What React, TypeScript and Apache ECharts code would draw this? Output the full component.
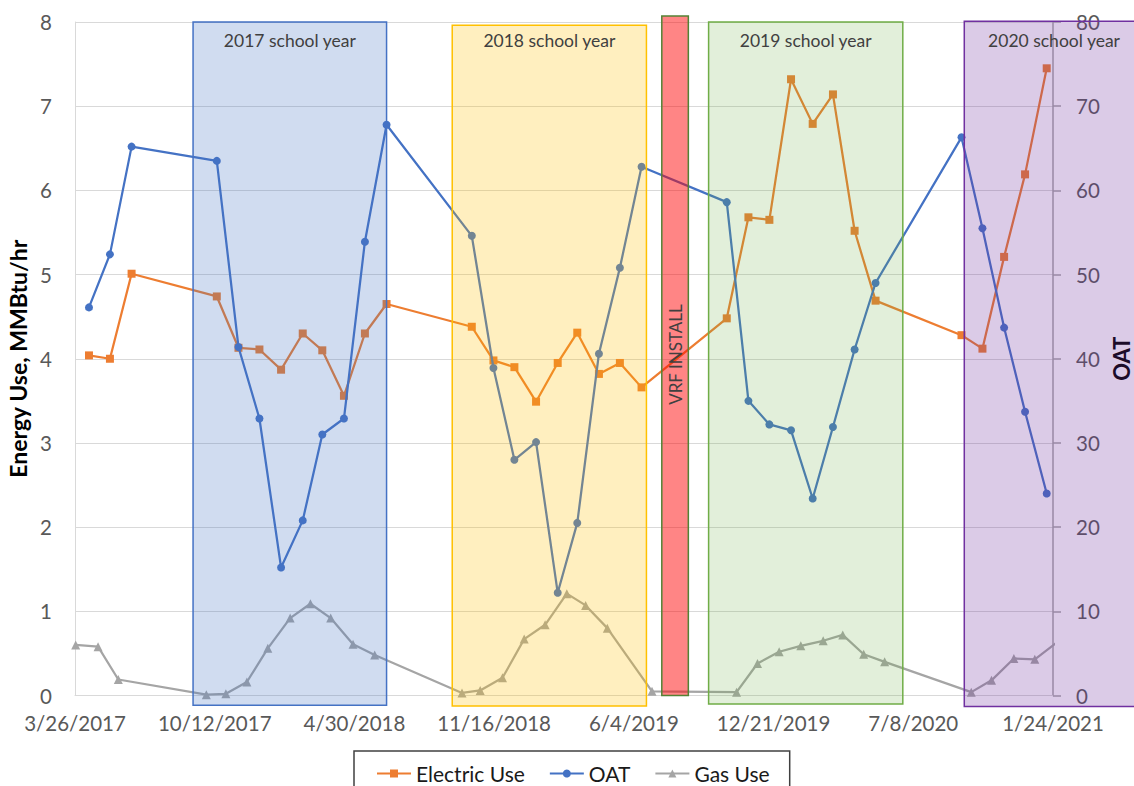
import React, { useEffect, useRef } from "react";
import * as echarts from "echarts";

// ---- data ----
const electricDates = [
  "2017-04-15", "2017-05-15", "2017-06-15",
  "2017-10-15", "2017-11-15", "2017-12-15", "2018-01-15", "2018-02-15", "2018-03-15", "2018-04-15", "2018-05-15", "2018-06-15",
  "2018-10-15", "2018-11-15", "2018-12-15", "2019-01-15", "2019-02-15", "2019-03-15", "2019-04-15", "2019-05-15", "2019-06-15",
  "2019-10-15", "2019-11-15", "2019-12-15", "2020-01-15", "2020-02-15", "2020-03-15", "2020-04-15", "2020-05-15",
  "2020-09-15", "2020-10-15", "2020-11-15", "2020-12-15", "2021-01-15",
];
const electricUse = [
  4.04, 4.0, 5.01,
  4.74, 4.13, 4.11, 3.87, 4.3, 4.1, 3.56, 4.3, 4.65,
  4.38, 3.98, 3.9, 3.49, 3.95, 4.31, 3.82, 3.95, 3.66,
  4.48, 5.68, 5.65, 7.32, 6.79, 7.14, 5.52, 4.69,
  4.28, 4.12, 5.21, 6.19, 7.45,
];
const oat = [
  46.1, 52.4, 65.2,
  63.5, 41.4, 32.9, 15.2, 20.8, 31.0, 32.9, 53.9, 67.8,
  54.6, 38.9, 28.0, 30.1, 12.2, 20.5, 40.6, 50.8, 62.8,
  58.6, 35.0, 32.2, 31.5, 23.4, 31.9, 41.1, 49.0,
  66.3, 55.5, 43.7, 33.7, 24.0,
];
const gasDates = [
  "2017-03-27", "2017-04-28", "2017-05-27",
  "2017-09-30", "2017-10-28", "2017-11-27", "2017-12-27", "2018-01-28", "2018-02-26", "2018-03-27", "2018-04-28", "2018-05-29",
  "2018-10-01", "2018-10-27", "2018-11-28", "2018-12-29", "2019-01-28", "2019-02-28", "2019-03-27", "2019-04-27", "2019-06-30",
  "2019-10-29", "2019-11-28", "2019-12-29", "2020-01-29", "2020-03-01", "2020-03-29", "2020-04-28", "2020-05-28",
  "2020-09-29", "2020-10-28", "2020-11-29", "2020-12-29", "2021-01-28",
];
const gasUse = [
  0.6, 0.58, 0.19,
  0.01, 0.02, 0.16, 0.56, 0.92, 1.09, 0.92, 0.61, 0.48,
  0.03, 0.06, 0.21, 0.67, 0.84, 1.21, 1.07, 0.8, 0.05,
  0.04, 0.38, 0.52, 0.59, 0.65, 0.72, 0.49, 0.4,
  0.04, 0.18, 0.44, 0.43, 0.62,
];

// x axis: first tick date and tick spacing in days
const xAxisStart = "2017-03-26";
const xTickDays = 200;
const xTickCount = 7;

// annotated periods
const periodNames = ["2017 school year", "2018 school year", "VRF INSTALL", "2019 school year", "2020 school year"];
const periodStarts = ["2017-09-11", "2018-09-17", "2019-07-14", "2019-09-19", "2020-09-19"];
const periodEnds = ["2018-06-15", "2019-06-22", "2019-08-21", "2020-06-23", "2021-06-03"];
const periodTops = [8.0, 7.96, 8.07, 8.0, 8.01];
const periodBottoms = [-0.115, -0.125, 0, -0.1, -0.13];
const periodFills = [
  "rgba(68,114,196,0.25)",
  "rgba(255,192,0,0.25)",
  "rgba(255,0,0,0.48)",
  "rgba(112,173,71,0.2)",
  "rgba(112,48,160,0.25)",
];
const periodStrokes = ["#4472C4", "#FFC000", "#548235", "#70AD47", "#7030A0"];

const DAY = 86400000;
const parse = (s: string) => {
  const [y, m, d] = s.split("-").map(Number);
  return Date.UTC(y, m - 1, d);
};
const BASE = parse(xAxisStart);
const toDay = (s: string) => Math.round((parse(s) - BASE) / DAY);
const fmtDay = (v: number) => {
  const d = new Date(BASE + v * DAY);
  return `${d.getUTCMonth() + 1}/${d.getUTCDate()}/${d.getUTCFullYear()}`;
};

const FONT = "Lato";

export default function App() {
  const ref = useRef<HTMLDivElement>(null);

  useEffect(() => {
    document.body.style.margin = "0";
    if (!ref.current) return;
    const chart = echarts.init(ref.current, undefined, { renderer: "svg" });

    chart.setOption({
      animation: false,
      backgroundColor: "#ffffff",
      grid: { left: 75, right: 81, top: 22, bottom: 90.5, containLabel: false, outerBoundsMode: "none" },
      legend: {
        left: 354,
        top: 751,
        data: ["Electric Use", "OAT", "Gas Use"],
        itemWidth: 34,
        itemHeight: 10,
        itemGap: 24,
        padding: [12, 20, 40, 22],
        borderColor: "#404040",
        borderWidth: 1.5,
        textStyle: { fontFamily: FONT, fontSize: 21, color: "#1a1a1a" },
      },
      xAxis: {
        type: "value",
        min: 0,
        max: xTickDays * xTickCount,
        interval: xTickDays,
        axisLine: { show: true, lineStyle: { color: "#D9D9D9", width: 1 } },
        axisTick: { show: false },
        splitLine: { show: false },
        axisLabel: {
          formatter: (v: number) => fmtDay(v),
          fontFamily: FONT,
          fontSize: 20.5,
          color: "#595959",
          margin: 17,
          showMinLabel: true,
          showMaxLabel: true,
        },
      },
      yAxis: [
        {
          type: "value",
          min: 0,
          max: 8,
          interval: 1,
          name: "Energy Use, MMBtu/hr",
          nameLocation: "middle",
          nameGap: 42,
          nameTextStyle: { fontFamily: FONT, fontSize: 23, fontWeight: "bold", color: "#000" },
          axisLine: { show: true, lineStyle: { color: "#D9D9D9", width: 1 } },
          axisTick: { show: false },
          splitLine: { show: true, lineStyle: { color: "#D9D9D9", width: 1 } },
          axisLabel: { fontFamily: FONT, fontSize: 20.5, color: "#595959", margin: 23 },
        },
        {
          type: "value",
          position: "right",
          min: 0,
          max: 80,
          interval: 10,
          name: "OAT",
          nameLocation: "middle",
          nameGap: 50,
          nameTextStyle: { fontFamily: FONT, fontSize: 22, fontWeight: "bold", color: "#000" },
          axisLine: { show: true, lineStyle: { color: "#A6A6A6", width: 1.5 } },
          axisTick: { show: true, inside: false, length: 8, lineStyle: { color: "#A6A6A6", width: 1.5 } },
          splitLine: { show: false },
          axisLabel: { fontFamily: FONT, fontSize: 20.5, color: "#595959", margin: 23 },
        },
      ],
      series: [
        {
          name: "Electric Use",
          type: "line",
          data: electricDates.map((d, i) => [toDay(d), electricUse[i]]),
          symbol: "rect",
          symbolSize: 8,
          lineStyle: { color: "#ED7D31", width: 2.25 },
          itemStyle: { color: "#ED7D31" },
          z: 3,
        },
        {
          name: "OAT",
          type: "line",
          yAxisIndex: 1,
          data: electricDates.map((d, i) => [toDay(d), oat[i]]),
          symbol: "circle",
          symbolSize: 8,
          lineStyle: { color: "#4472C4", width: 2.25 },
          itemStyle: { color: "#4472C4" },
          z: 4,
        },
        {
          name: "Gas Use",
          type: "line",
          data: gasDates.map((d, i) => [toDay(d), gasUse[i]]),
          symbol: "triangle",
          symbolSize: 9,
          lineStyle: { color: "#A5A5A5", width: 2.25 },
          itemStyle: { color: "#A5A5A5" },
          z: 5,
        },
      ],
    });

    const toPx = (d: number, v: number) =>
      chart.convertToPixel({ xAxisIndex: 0, yAxisIndex: 0 }, [d, v]) as number[];

    const graphics: any[] = [];
    periodNames.forEach((name, i) => {
      const s = toDay(periodStarts[i]);
      const e = toDay(periodEnds[i]);
      const [x0, y0] = toPx(s, periodTops[i]);
      const [x1, y1] = toPx(e, periodBottoms[i]);
      graphics.push({
        type: "rect",
        z: 50,
        shape: { x: x0, y: y0, width: x1 - x0, height: y1 - y0 },
        style: { fill: periodFills[i], stroke: periodStrokes[i], lineWidth: 1.5 },
      });
      const vertical = name === "VRF INSTALL";
      const [tx, ty] = toPx((s + e) / 2, vertical ? 4.05 : 7.78);
      graphics.push({
        type: "text",
        z: 51,
        x: tx,
        y: ty,
        rotation: vertical ? Math.PI / 2 : 0,
        style: {
          text: name,
          fill: "#404040",
          fontFamily: FONT,
          fontSize: vertical ? 17 : 17.5,
          align: "center",
          verticalAlign: "middle",
        },
      });
    });
    chart.setOption({ graphic: graphics });

    return () => chart.dispose();
  }, []);

  return <div ref={ref} style={{ width: 1134, height: 786 }} />;
}
